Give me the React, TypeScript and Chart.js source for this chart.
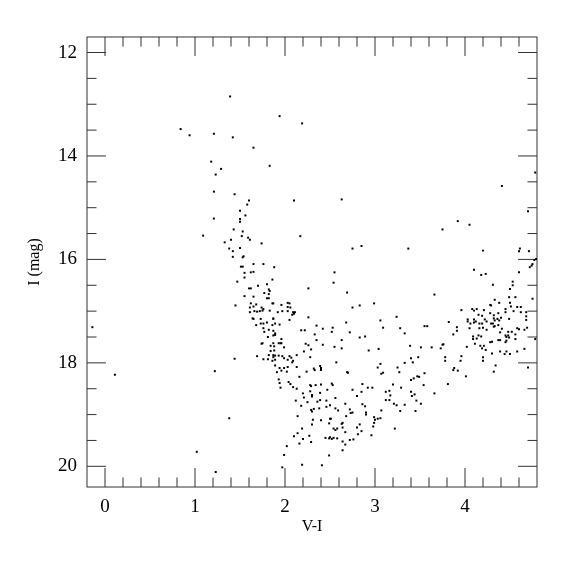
import React, { useEffect, useRef } from "react";
import { Chart, registerables } from "chart.js";

Chart.register(...registerables);

// Axis tick values
const xMajorTicks = [0, 1, 2, 3, 4];
const yMajorTicks = [12, 14, 16, 18, 20];

// Stars as [V-I, I] pairs
const brightStars: [number, number][] = [
  [1.39, 12.85], [0.84, 13.48], [0.94, 13.6], [1.21, 13.57], [1.42, 13.64],
  [1.18, 14.11], [1.29, 14.25], [1.23, 14.36], [1.21, 14.69], [1.44, 14.74],
  [1.5, 15.06], [1.21, 15.21], [1.5, 15.22], [1.5, 15.27], [1.43, 15.42],
  [1.53, 15.46], [1.09, 15.54], [1.52, 15.55], [1.4, 15.62], [1.33, 15.67],
  [1.38, 15.79], [1.5, 15.78],
  [1.94, 13.23], [2.19, 13.37], [1.65, 13.84], [1.83, 14.19], [1.6, 14.86],
  [1.58, 14.94], [2.1, 14.86], [2.63, 14.84], [1.56, 15.15], [1.59, 15.58],
  [1.61, 15.62], [1.74, 15.69], [2.17, 15.55], [2.75, 15.79], [2.85, 15.74],
  [3.37, 15.79], [3.75, 15.42], [3.92, 15.26], [4.05, 15.33], [4.41, 14.58],
  [4.78, 14.32], [4.7, 15.07], [4.61, 15.79],
  [1.42, 15.84], [1.42, 15.95], [-0.14, 17.31],
];

const giantBranch: [number, number][] = [
  [1.54, 15.94], [1.53, 15.96], [1.65, 16.09], [1.76, 16.09], [1.88, 16.15],
  [1.51, 16.14], [1.53, 16.14], [1.55, 16.26], [1.62, 16.25], [1.65, 16.24],
  [1.55, 16.35], [1.47, 16.43], [1.86, 16.39], [1.8, 16.48], [1.7, 16.51],
  [1.6, 16.56], [1.62, 16.56], [1.82, 16.58], [1.83, 16.61], [1.77, 16.65],
  [1.82, 16.67], [1.55, 16.71], [1.65, 16.72], [1.8, 16.75], [1.82, 16.75],
  [1.86, 16.85], [1.87, 16.85], [1.45, 16.89], [1.62, 16.85], [1.68, 16.87],
  [1.61, 16.93], [1.65, 16.91], [1.74, 16.93], [1.96, 16.88], [2.03, 16.84],
  [2.05, 16.85], [2.03, 16.92], [2.06, 16.93], [1.61, 17.02], [1.66, 17.0],
  [1.69, 17.01], [1.72, 17.0], [1.76, 16.96], [1.75, 16.99], [1.83, 16.99],
  [1.92, 17.02], [1.97, 17.0], [2.03, 17.0], [2.09, 17.02], [2.11, 17.02],
  [2.1, 17.05], [2.08, 17.07], [1.64, 17.14], [1.65, 17.15], [1.73, 17.15],
  [1.87, 17.14], [1.87, 17.15], [2.05, 17.17], [2.26, 17.12], [1.68, 17.27],
  [1.73, 17.24], [1.76, 17.24], [1.8, 17.22], [1.89, 17.24], [1.94, 17.26],
  [1.86, 17.27], [2.55, 16.25], [2.54, 16.45], [2.26, 16.56], [2.69, 16.64],
  [2.99, 16.85], [2.83, 16.89], [2.75, 16.93], [3.06, 17.18], [3.09, 17.32],
  [2.68, 17.22], [2.35, 17.28], [2.42, 17.34], [2.53, 17.32], [2.52, 17.4],
  [2.18, 17.37], [2.22, 17.37], [2.33, 17.45], [2.72, 17.41], [1.76, 17.33],
  [1.77, 17.4], [1.82, 17.36], [1.87, 17.38], [1.89, 17.43], [1.81, 17.5],
  [1.87, 17.47], [1.89, 17.46], [1.96, 17.54], [1.75, 17.62], [1.74, 17.63],
  [1.84, 17.67], [1.87, 17.62], [1.88, 17.68], [1.93, 17.62], [1.95, 17.62],
  [1.96, 17.62], [1.99, 17.7], [2.23, 17.63], [2.26, 17.66], [2.35, 17.56],
  [2.42, 17.65], [2.29, 17.74], [2.55, 17.69], [2.63, 17.72], [2.63, 17.56],
  [2.83, 17.51], [2.89, 17.49], [2.93, 17.76], [3.04, 17.73], [3.06, 18.02],
  [3.03, 18.09], [1.44, 17.92], [1.69, 17.87], [1.76, 17.93], [1.81, 17.93],
  [1.82, 17.85], [1.84, 17.77], [1.88, 17.76], [1.87, 17.85], [1.89, 17.86],
  [1.87, 17.89], [1.89, 17.94], [1.86, 17.96], [1.93, 17.86], [1.97, 17.87],
  [1.99, 17.91], [2.03, 17.94], [2.05, 17.87], [2.07, 17.9], [2.09, 17.96],
  [2.13, 17.85], [2.21, 17.78], [2.28, 17.89], [2.39, 18.06], [2.4, 18.1],
  [2.32, 18.11], [1.89, 18.05], [1.94, 18.1], [1.99, 18.1], [2.03, 18.08],
  [2.08, 17.99], [2.13, 18.08], [2.57, 17.99],
];

const redStars: [number, number][] = [
  [4.2, 15.83], [4.6, 15.84], [4.71, 15.84], [4.79, 15.99], [4.77, 16.01],
  [4.75, 16.09], [4.74, 16.12], [4.72, 16.15], [4.6, 16.25], [4.1, 16.2],
  [4.18, 16.3], [4.23, 16.28], [4.31, 16.49], [4.53, 16.43], [4.53, 16.5],
  [4.5, 16.57], [3.66, 16.68], [4.75, 16.76], [4.49, 16.73], [4.56, 16.73],
  [4.33, 16.78], [4.28, 16.88], [4.29, 16.89], [4.38, 16.84], [4.5, 16.84],
  [4.51, 16.91], [4.58, 16.92], [4.62, 16.92], [4.45, 16.96], [4.45, 17.02],
  [4.54, 17.0], [4.62, 17.02], [4.68, 17.02], [3.96, 16.98], [4.08, 16.96],
  [4.13, 16.96], [4.1, 16.99], [4.21, 16.98], [4.15, 17.07], [4.19, 17.09],
  [4.28, 17.04], [4.32, 17.08], [4.37, 17.04], [3.24, 17.11], [3.82, 17.21],
  [4.03, 17.16], [4.03, 17.2], [4.1, 17.16], [4.12, 17.2], [4.22, 17.16],
  [4.24, 17.2], [4.32, 17.14], [4.33, 17.18], [4.36, 17.15], [4.38, 17.18],
  [4.4, 17.13], [4.49, 17.15], [4.68, 17.17], [4.68, 17.1], [4.06, 17.24],
  [4.1, 17.22], [4.16, 17.24], [4.19, 17.24], [4.29, 17.24], [4.31, 17.24],
  [4.37, 17.27], [4.05, 17.33], [4.16, 17.33], [4.2, 17.32], [4.24, 17.36],
  [4.32, 17.3], [4.33, 17.29], [4.41, 17.34], [4.58, 17.33], [4.6, 17.35],
  [4.66, 17.36], [4.69, 17.32], [3.28, 17.33], [3.33, 17.43], [3.55, 17.29],
  [3.58, 17.29], [3.91, 17.31], [3.91, 17.38], [3.87, 17.45], [4.09, 17.49],
  [4.15, 17.47], [4.18, 17.49], [4.39, 17.41], [4.45, 17.47], [4.46, 17.5],
  [4.48, 17.47], [4.49, 17.51], [4.48, 17.4], [4.52, 17.4], [4.56, 17.45],
  [4.56, 17.54], [4.78, 17.54], [4.09, 17.54], [4.13, 17.53], [4.28, 17.6],
  [4.3, 17.59], [4.37, 17.56], [4.39, 17.56], [4.46, 17.57], [4.45, 17.6],
  [4.66, 17.73], [4.58, 17.78], [3.39, 17.67], [3.51, 17.7], [3.63, 17.7],
  [3.73, 17.72], [3.75, 17.65], [3.76, 17.64], [4.02, 17.69], [4.11, 17.63],
  [4.17, 17.67], [4.21, 17.67], [4.19, 17.72], [4.23, 17.75], [4.3, 17.82],
  [4.39, 17.78], [4.46, 17.78], [4.44, 17.83], [4.5, 17.83], [4.2, 17.89],
  [4.2, 17.96], [3.96, 17.87], [3.95, 17.96], [3.78, 17.89], [3.78, 17.96],
  [3.48, 17.89], [3.4, 17.91], [3.42, 17.99], [3.25, 18.09], [3.33, 18.0],
  [3.88, 18.1], [4.34, 18.05], [4.7, 18.09],
];

const faintStars: [number, number][] = [
  [0.11, 18.23], [1.22, 18.16], [1.38, 19.07], [1.02, 19.72], [1.23, 20.11],
  [1.91, 18.18], [1.96, 18.15], [2.02, 18.17], [1.93, 18.32], [1.94, 18.39],
  [1.95, 18.48], [2.04, 18.37], [2.06, 18.41], [2.09, 18.47], [2.13, 18.5],
  [2.16, 18.27], [2.24, 18.17], [2.33, 18.14], [2.4, 18.14], [2.28, 18.43],
  [2.29, 18.45], [2.34, 18.43], [2.4, 18.42], [2.52, 18.4], [2.53, 18.43],
  [2.69, 18.18], [2.7, 18.19], [2.47, 18.52], [2.2, 18.59], [2.21, 18.67],
  [2.28, 18.55], [2.3, 18.62], [2.3, 18.65], [2.39, 18.58], [2.12, 18.73],
  [2.36, 18.75], [2.39, 18.72], [2.25, 18.76], [2.18, 18.83], [2.56, 18.68],
  [2.46, 18.73], [2.5, 18.82], [2.46, 18.85], [2.38, 18.88], [2.56, 18.88],
  [2.67, 18.79], [2.29, 18.91], [2.3, 18.94], [2.32, 18.89], [2.59, 18.92],
  [2.14, 19.03], [2.72, 18.9], [2.73, 18.97], [2.75, 18.96], [2.68, 19.03],
  [2.31, 19.1], [2.3, 19.19], [2.4, 19.11], [2.5, 19.08], [2.51, 19.08],
  [2.49, 19.17], [2.63, 19.18], [2.64, 19.16], [2.54, 19.27], [2.58, 19.27],
  [2.56, 19.3], [2.64, 19.25], [2.67, 19.34], [2.19, 19.27], [2.14, 19.36],
  [2.1, 19.42], [2.27, 19.41], [2.29, 19.53], [2.16, 19.56], [2.2, 19.47],
  [2.45, 19.45], [2.49, 19.46], [2.5, 19.44], [2.52, 19.47], [2.54, 19.45],
  [2.58, 19.46], [2.64, 19.52], [2.64, 19.69], [2.67, 19.58], [2.72, 19.49],
  [2.76, 19.48], [2.49, 19.79], [2.02, 19.61], [1.99, 19.78], [1.97, 20.02],
  [2.19, 19.97], [2.41, 19.98], [2.81, 19.38], [2.8, 19.25], [2.83, 19.19],
  [2.85, 19.32], [2.86, 18.8], [2.89, 18.84], [2.85, 18.56], [2.75, 18.52],
  [2.8, 18.64], [2.86, 18.41], [2.92, 18.48], [2.9, 18.96], [2.9, 19.0],
  [2.99, 19.05], [3.0, 19.1], [3.03, 19.08], [3.06, 19.07], [2.99, 19.16],
  [2.98, 19.23], [2.96, 19.4], [3.07, 18.92], [2.97, 18.48], [3.07, 18.21],
  [3.09, 18.19], [3.16, 18.54], [3.12, 18.56], [3.17, 18.63], [3.12, 18.72],
  [3.16, 18.72], [3.2, 18.42], [3.21, 18.79], [3.24, 18.82], [3.22, 19.27],
  [3.27, 18.18], [3.29, 18.48], [3.28, 18.93], [3.33, 18.81], [3.4, 18.56],
  [3.41, 18.64], [3.44, 18.61], [3.4, 18.33], [3.43, 18.3], [3.47, 18.26],
  [3.49, 18.27], [3.46, 18.73], [3.45, 18.93], [3.51, 18.79], [3.54, 18.43],
  [3.55, 18.2], [3.66, 18.59], [3.81, 18.41], [3.87, 18.14], [3.92, 18.15],
  [4.01, 18.26], [4.32, 18.17],
];

const allStars = [...brightStars, ...giantBranch, ...redStars, ...faintStars];

const FONT = "'Liberation Serif', 'Times New Roman', serif";

const framePlugin = {
  id: "frameTicks",
  beforeDatasetsDraw(chart: any) {
    const { ctx, chartArea: a, scales } = chart;
    const xs = scales.x;
    const ys = scales.y;
    ctx.save();
    ctx.strokeStyle = "#333";
    ctx.lineWidth = 1;
    ctx.strokeRect(a.left, a.top, a.right - a.left, a.bottom - a.top);
    ctx.beginPath();
    for (let k = -1; k <= 24; k++) {
      const v = k / 5;
      const px = xs.getPixelForValue(v);
      if (px < a.left + 0.5 || px > a.right - 0.5) continue;
      const len = k % 5 === 0 ? 19 : 9.5;
      ctx.moveTo(px, a.bottom);
      ctx.lineTo(px, a.bottom - len);
      ctx.moveTo(px, a.top);
      ctx.lineTo(px, a.top + len);
    }
    for (let k = 24; k <= 40; k++) {
      const v = k / 2;
      const py = ys.getPixelForValue(v);
      if (py < a.top + 0.5 || py > a.bottom - 0.5) continue;
      const len = k % 4 === 0 ? 19 : 9.5;
      ctx.moveTo(a.left, py);
      ctx.lineTo(a.left + len, py);
      ctx.moveTo(a.right, py);
      ctx.lineTo(a.right - len, py);
    }
    ctx.stroke();
    ctx.restore();
  },
};

export default function App() {
  const ref = useRef<HTMLCanvasElement | null>(null);

  useEffect(() => {
    if (!ref.current) return;
    const chart = new Chart(ref.current, {
      type: "scatter",
      data: {
        datasets: [
          {
            data: allStars.map(([x, y]) => ({ x, y })),
            pointStyle: "rect",
            pointRadius: 1.4,
            pointHoverRadius: 1.4,
            backgroundColor: "#000",
            borderWidth: 0,
          },
        ],
      },
      options: {
        animation: false,
        responsive: false,
        maintainAspectRatio: false,
        events: [],
        layout: { padding: { left: 0, top: 37, right: 38, bottom: 0 } },
        plugins: {
          legend: { display: false },
          tooltip: { enabled: false },
        },
        scales: {
          x: {
            type: "linear",
            min: -0.2,
            max: 4.8,
            grid: { display: false, drawTicks: false },
            border: { display: false },
            afterBuildTicks: (s: any) => {
              s.ticks = xMajorTicks.map((v) => ({ value: v }));
            },
            afterFit: (s: any) => {
              s.height = 88;
            },
            ticks: {
              color: "#000",
              padding: 9,
              maxRotation: 0,
              font: { family: FONT, size: 19 },
            },
            title: {
              display: true,
              text: "V-I",
              color: "#000",
              font: { family: FONT, size: 16 },
              padding: { top: 0, bottom: 39 },
            },
          },
          y: {
            type: "linear",
            reverse: true,
            min: 11.7,
            max: 20.4,
            grid: { display: false, drawTicks: false },
            border: { display: false },
            afterBuildTicks: (s: any) => {
              s.ticks = yMajorTicks.map((v) => ({ value: v }));
            },
            afterFit: (s: any) => {
              s.width = 87;
            },
            ticks: {
              color: "#000",
              padding: 10,
              font: { family: FONT, size: 19 },
            },
            title: {
              display: true,
              text: "I (mag)",
              color: "#000",
              font: { family: FONT, size: 16 },
              padding: { top: 25, bottom: 0 },
            },
          },
        },
      },
      plugins: [framePlugin],
    });
    return () => chart.destroy();
  }, []);

  return (
    <div style={{ position: "absolute", left: 0, top: 0, width: 575, height: 575, background: "#fff" }}>
      <canvas ref={ref} width={575} height={575} style={{ width: 575, height: 575 }} />
    </div>
  );
}
